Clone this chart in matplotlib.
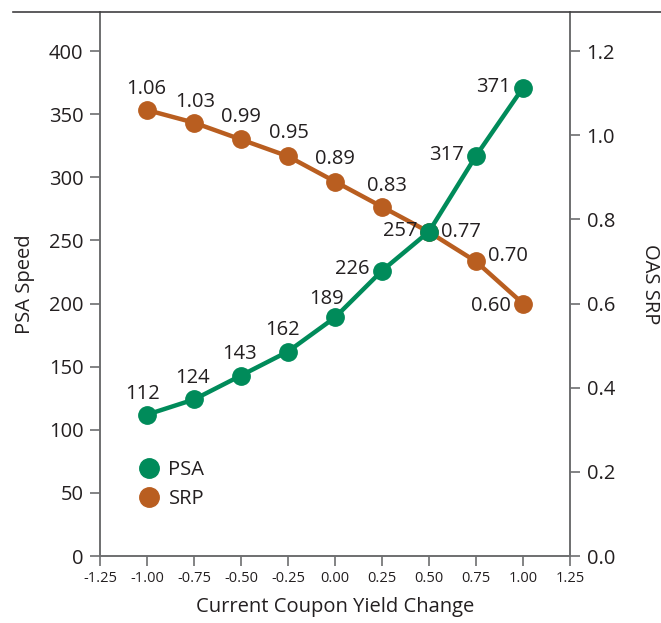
import matplotlib.pyplot as plt
from matplotlib.lines import Line2D

plt.rcParams['font.family'] = ['Open Sans', 'DejaVu Sans']

yield_change = [-1.00, -0.75, -0.50, -0.25, 0.00, 0.25, 0.50, 0.75, 1.00]
psa_speed = [112, 124, 143, 162, 189, 226, 257, 317, 371]
oas_srp = [1.06, 1.03, 0.99, 0.95, 0.89, 0.83, 0.77, 0.70, 0.60]
x_ticks = [-1.25, -1.00, -0.75, -0.50, -0.25, 0.00, 0.25, 0.50, 0.75, 1.00, 1.25]

green = '#008B5A'
orange = '#B95E20'
txt = '#231F20'
axcol = '#6D6E70'
fs = 14.5

# label offsets in pixels (dx, dy) and alignment
psa_off = [(-4, 21, 'center'), (-2, 21, 'center'), (-1, 22, 'center'), (-6, 22, 'center'),
           (-9, 18, 'center'), (-12, 2, 'right'), (-12, 1, 'right'), (-12, 1, 'right'), (-12, 1, 'right')]
srp_off = [(-1, 21, 'center'), (1, 21, 'center'), (0, 22, 'center'), (1, 23, 'center'),
           (0, 23, 'center'), (5, 21, 'center'), (12, 0, 'left'), (12, 5, 'left'), (-12, -2, 'right')]

fig = plt.figure(figsize=(6.61, 6.23), dpi=100)
ax = fig.add_axes([100 / 661, 1 - 556 / 623, 470 / 661, 544 / 623])
ax2 = ax.twinx()

ax2.plot(yield_change, oas_srp, color=orange, lw=3.2, marker='o', ms=12.5, label='SRP', zorder=3)
ax.plot(yield_change, psa_speed, color=green, lw=3.2, marker='o', ms=12.5, label='PSA', zorder=3)
ax.set_zorder(ax2.get_zorder() + 1)
ax.patch.set_visible(False)

for x, v, (dx, dy, ha) in zip(yield_change, psa_speed, psa_off):
    ax.annotate(str(v), (x, v), xytext=(dx, dy), textcoords='offset pixels',
                ha=ha, va='center', fontsize=fs, color=txt)
for x, v, (dx, dy, ha) in zip(yield_change, oas_srp, srp_off):
    ax2.annotate(f'{v:.2f}', (x, v), xytext=(dx, dy), textcoords='offset pixels',
                 ha=ha, va='center', fontsize=fs, color=txt)

ax.set_xlim(-1.25, 1.25)
ax.set_ylim(0, 431)
ax2.set_ylim(0, 431 * 0.003)
ax.set_xticks(x_ticks)
ax.set_xticklabels([f'{t:.2f}' for t in x_ticks], color=txt)
ax.set_yticks(range(0, 401, 50))
ax2.set_yticks([0.0, 0.2, 0.4, 0.6, 0.8, 1.0, 1.2])
ax2.set_yticklabels(['0.0', '0.2', '0.4', '0.6', '0.8', '1.0', '1.2'])

for a in (ax, ax2):
    a.spines['top'].set_visible(False)
    for s in ('left', 'right', 'bottom'):
        a.spines[s].set_color(axcol)
        a.spines[s].set_linewidth(1.2)
    a.tick_params(colors=axcol, labelcolor=txt, length=7, width=1.2, labelsize=fs, pad=5)
ax.tick_params(axis='x', labelsize=10.5, pad=4)

ax.set_xlabel('Current Coupon Yield Change', fontsize=fs, color=txt, labelpad=8)
ax.set_ylabel('PSA Speed', fontsize=fs, color=txt, labelpad=10)
ax2.set_ylabel('OAS SRP', fontsize=fs, color=txt, rotation=270, labelpad=32)

handles = [Line2D([], [], color=green, marker='o', ms=14, lw=0),
           Line2D([], [], color=orange, marker='o', ms=14, lw=0)]
ax.legend(handles, ['PSA', 'SRP'], loc='upper left', bbox_to_anchor=(0.045, 0.21),
          frameon=False, fontsize=fs, handlelength=1.0, handletextpad=0.45,
          labelspacing=0.45, labelcolor=txt)

fig.add_artist(Line2D([13 / 661, 1], [1 - 12 / 623, 1 - 12 / 623], color='#414042', lw=1.2))

fig.savefig('out.png', dpi=100)
